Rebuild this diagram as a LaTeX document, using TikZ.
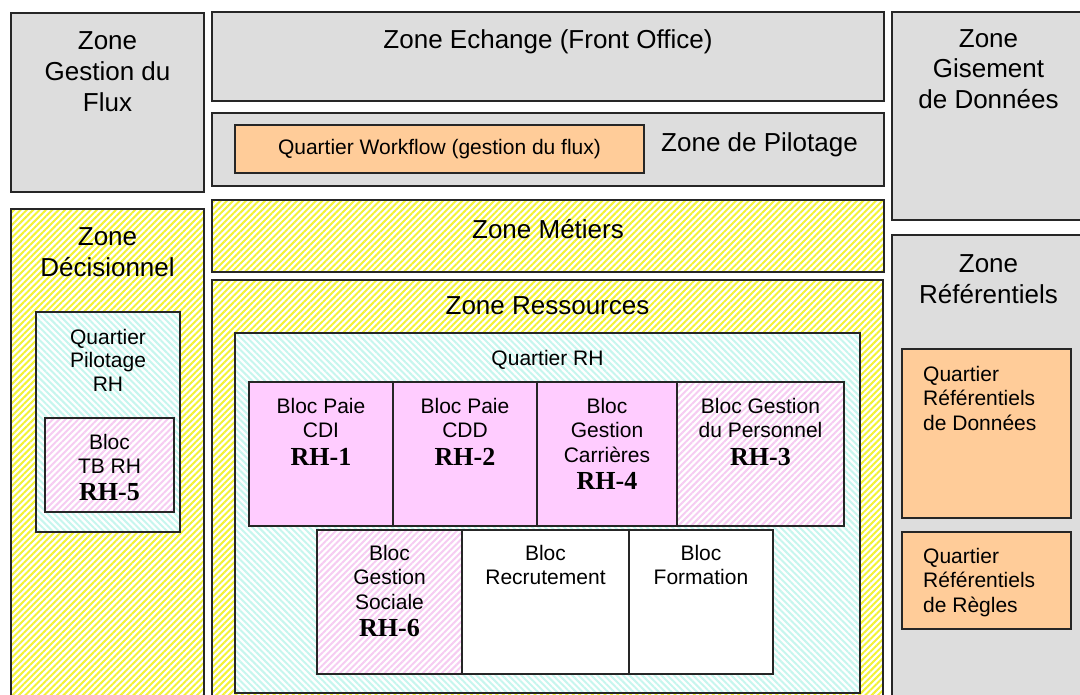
\documentclass[tikz,border=0pt]{standalone}
\usepackage{fontspec}
\setmainfont{Liberation Sans}
\newfontfamily\rhfont{Liberation Serif}
\usetikzlibrary{positioning,patterns.meta}
\definecolor{zoneGray}{HTML}{DDDDDD}
\definecolor{quartierOrange}{HTML}{FFCC99}
\definecolor{blocPink}{HTML}{FFCCFF}
\definecolor{hatchYellow}{HTML}{F2F236}
\definecolor{hatchCyan}{HTML}{C6F6EE}
\definecolor{hatchPink}{HTML}{F6CCF2}
\newcommand{\rhcode}[1]{{\rhfont\bfseries\fontsize{26}{30}\selectfont #1}}

\begin{document}
\begin{tikzpicture}[
    x=1pt, y=-1pt,
    node distance=0pt,
    box/.style={draw=black!85, line width=1.8pt, inner sep=0pt, outer sep=0pt, anchor=north west},
    grayzone/.style={box, fill=zoneGray},
    yellowzone/.style={box, preaction={fill=white},
                       pattern={Lines[angle=45, distance=4.5pt, line width=2pt]}, pattern color=hatchYellow},
    cyanquartier/.style={box, preaction={fill=white},
                         pattern={Lines[angle=-45, distance=4.5pt, line width=2pt]}, pattern color=hatchCyan},
    pinkbloc/.style={box, fill=blocPink, minimum height=144pt},
    hatchbloc/.style={box, preaction={fill=white}, minimum height=144pt,
                      pattern={Lines[angle=45, distance=4.5pt, line width=2pt]}, pattern color=hatchPink},
    whitebloc/.style={box, fill=white, minimum height=144pt},
    orangequartier/.style={box, fill=quartierOrange},
    bigtxt/.style={font=\fontsize{26}{31}\selectfont, align=center, inner sep=0pt},
    smalltxt/.style={font=\fontsize{21}{24.5}\selectfont, align=center, inner sep=0pt}
]
    \useasboundingbox (0,0) rectangle (1080,695);

    % left column
    \node[grayzone, minimum width=193pt, minimum height=179pt] (flux) at (11,13) {};
    \node[bigtxt, below=18pt of flux.north] (fluxtxt) {Zone\\Gestion du\\Flux};
    \node[yellowzone, minimum width=193pt, minimum height=500pt] (decision) at (11,209) {};
    \node[bigtxt, below=18pt of decision.north] (decisiontxt) {Zone\\Décisionnel};
    \node[cyanquartier, minimum width=144pt, minimum height=220pt] (qpilot) at (36,312) {};
    \node[smalltxt, font=\fontsize{21}{23.5}\selectfont, below=17pt of qpilot.north] (qpilottxt) {Quartier\\Pilotage\\RH};
    \node[hatchbloc, minimum width=129pt, minimum height=94pt] (tbrh) at (45,418) {};
    \node[smalltxt, below=16pt of tbrh.north] (tbrhtxt) {Bloc\\TB RH\\[2.5pt]\rhcode{RH-5}};

    % middle column
    \node[grayzone, minimum width=672pt, minimum height=89pt] (echange) at (212,12) {};
    \node[bigtxt, below=17pt of echange.north] (echangetxt) {Zone Echange (Front Office)};
    \node[grayzone, minimum width=672pt, minimum height=73pt] (pilotage) at (212,113) {};
    \node[orangequartier, minimum width=409pt, minimum height=48pt, font=\fontsize{21}{24.5}\selectfont]
        (workflow) at (235,125) {Quartier Workflow (gestion du flux)};
    \node[bigtxt, right=17pt of workflow.east, yshift=4pt] (pilotagetxt) {Zone de Pilotage};
    \node[yellowzone, minimum width=672pt, minimum height=72pt] (metiers) at (212,200) {};
    \node[bigtxt, below=19pt of metiers.north] (metierstxt) {Zone Métiers};
    \node[yellowzone, minimum width=671pt, minimum height=430pt] (ressources) at (212,280) {};
    \node[bigtxt, below=16pt of ressources.north] (ressourcestxt) {Zone Ressources};
    \node[cyanquartier, minimum width=625pt, minimum height=360pt] (qrh) at (235,333) {};
    \node[smalltxt, below=17pt of qrh.north] (qrhtxt) {Quartier RH};

    % blocs RH
    \node[pinkbloc, minimum width=144pt] (paiecdi) at (249,382) {};
    \node[pinkbloc, minimum width=144pt, below right=0pt and 0pt of paiecdi.north east] (paiecdd) {};
    \node[pinkbloc, minimum width=140pt, below right=0pt and 0pt of paiecdd.north east] (carrieres) {};
    \node[hatchbloc, minimum width=167pt, below right=0pt and 0pt of carrieres.north east] (personnel) {};
    \node[hatchbloc, minimum width=145pt] (sociale) at (317,530) {};
    \node[whitebloc, minimum width=167pt, below right=0pt and 0pt of sociale.north east] (recrutement) {};
    \node[whitebloc, minimum width=144pt, below right=0pt and 0pt of recrutement.north east] (formation) {};

    \node[smalltxt, below=16pt of paiecdi.north] (paiecditxt) {Bloc Paie\\CDI\\[3pt]\rhcode{RH-1}};
    \node[smalltxt, below=16pt of paiecdd.north] (paiecddtxt) {Bloc Paie\\CDD\\[3pt]\rhcode{RH-2}};
    \node[smalltxt, below=16pt of carrieres.north] (carrierestxt) {Bloc\\Gestion\\Carrières\\[3pt]\rhcode{RH-4}};
    \node[smalltxt, below=16pt of personnel.north] (personneltxt) {Bloc Gestion\\du Personnel\\[3pt]\rhcode{RH-3}};
    \node[smalltxt, below=15pt of sociale.north] (socialetxt) {Bloc\\Gestion\\Sociale\\[3pt]\rhcode{RH-6}};
    \node[smalltxt, below=15pt of recrutement.north] (recrutementtxt) {Bloc\\Recrutement};
    \node[smalltxt, below=15pt of formation.north] (formationtxt) {Bloc\\Formation};

    % right column
    \node[grayzone, minimum width=193pt, minimum height=208pt] (gisement) at (892,12) {};
    \node[bigtxt, font=\fontsize{26}{30.5}\selectfont, below=17pt of gisement.north] (gisementtxt) {Zone\\Gisement\\de Données};
    \node[grayzone, minimum width=193pt, minimum height=475pt] (referentiels) at (892,235) {};
    \node[bigtxt, below=19pt of referentiels.north] (referentielstxt) {Zone\\Référentiels};
    \node[orangequartier, minimum width=169pt, minimum height=169pt] (refdonnees) at (902,349) {};
    \node[smalltxt, align=left, below right=17pt and 21pt of refdonnees.north west] (refdonneestxt)
        {Quartier\\Référentiels\\de Données};
    \node[orangequartier, minimum width=169pt, minimum height=97pt] (refregles) at (902,532) {};
    \node[smalltxt, align=left, below right=16pt and 21pt of refregles.north west] (refreglestxt)
        {Quartier\\Référentiels\\de Règles};
\end{tikzpicture}
\end{document}
